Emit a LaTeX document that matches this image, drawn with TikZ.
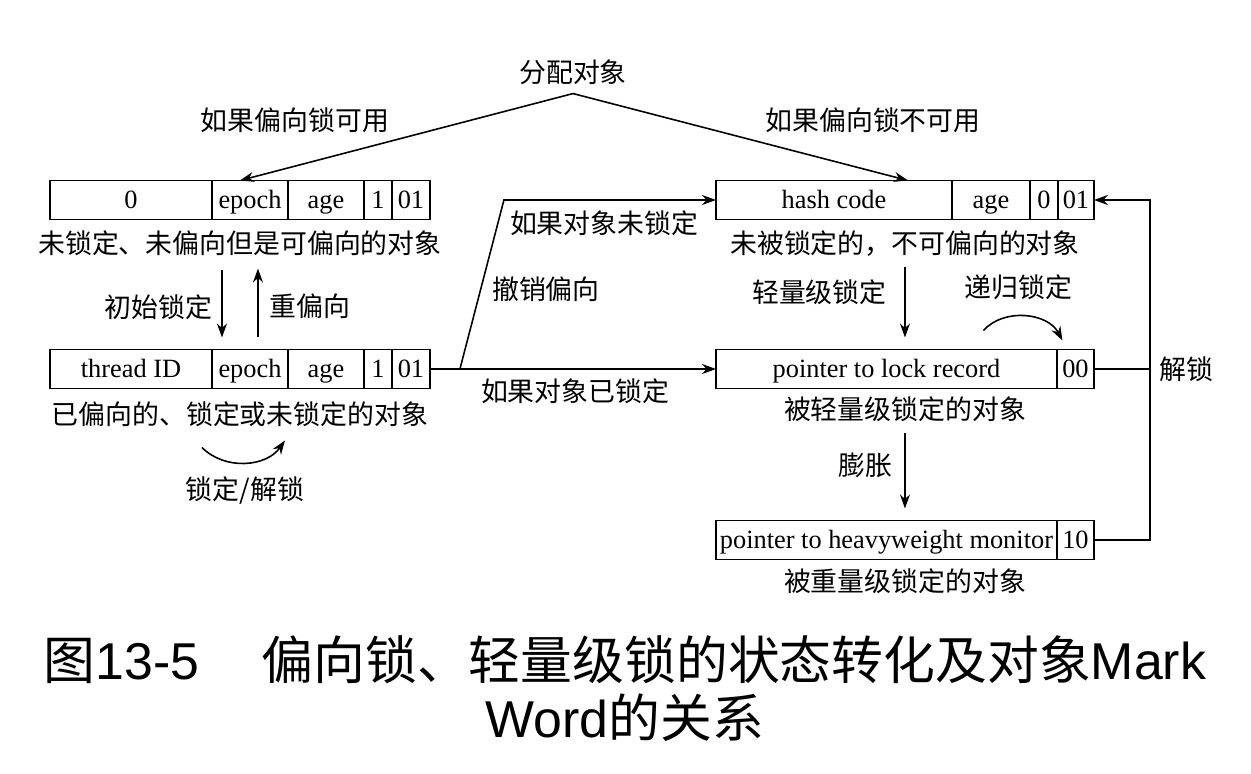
\documentclass[tikz,border=0pt]{standalone}
\usepackage{fontspec}
\setmainfont{Liberation Serif}
\newfontfamily\cjk{Noto Sans CJK SC}
\newfontfamily\capsans{Liberation Sans}
\usetikzlibrary{arrows.meta, positioning, calc}

\begin{document}
\begin{tikzpicture}[
        x=0.02cm, y=0.02cm,
        cell/.style={draw, line width=0.9pt, minimum height=0.78cm, inner sep=0pt, outer sep=0pt, text height=4.0mm, text depth=0.6mm, font=\fontsize{15}{18}\selectfont},
        lbl/.style={font=\cjk\fontsize{15.3}{18}\selectfont, inner sep=1pt},
        arrow/.style={-{Stealth[length=2.8mm, width=2mm]}, line width=0.9pt},
        link/.style={line width=0.9pt}
    ]
    \useasboundingbox (0,0) rectangle (1251,774);

    % Nodes: mark word boxes
    \node (u1) [cell, minimum width=3.24cm, anchor=west] at (50,574) {0};
    \node (u2) [cell, minimum width=1.52cm, right=0pt of u1] {epoch};
    \node (u3) [cell, minimum width=1.52cm, right=0pt of u2] {age};
    \node (u4) [cell, minimum width=0.56cm, right=0pt of u3] {1};
    \node (u5) [cell, minimum width=0.76cm, right=0pt of u4] {01};

    \node (b1) [cell, minimum width=3.24cm, anchor=west] at (50,405) {thread ID};
    \node (b2) [cell, minimum width=1.52cm, right=0pt of b1] {epoch};
    \node (b3) [cell, minimum width=1.52cm, right=0pt of b2] {age};
    \node (b4) [cell, minimum width=0.56cm, right=0pt of b3] {1};
    \node (b5) [cell, minimum width=0.76cm, right=0pt of b4] {01};

    \node (h1) [cell, minimum width=4.72cm, anchor=west] at (716,574) {hash code};
    \node (h2) [cell, minimum width=1.56cm, right=0pt of h1] {age};
    \node (h3) [cell, minimum width=0.56cm, right=0pt of h2] {0};
    \node (h4) [cell, minimum width=0.72cm, right=0pt of h3] {01};

    \node (l1) [cell, minimum width=6.82cm, anchor=west] at (716,405) {pointer to lock record};
    \node (l2) [cell, minimum width=0.74cm, right=0pt of l1] {00};

    \node (m1) [cell, minimum width=6.82cm, anchor=west] at (716,234) {pointer to heavyweight monitor};
    \node (m2) [cell, minimum width=0.74cm, right=0pt of m1] {10};

    % Nodes: captions under the boxes
    \node (su) [lbl] at ($(u1.south west)!0.5!(u5.south east)+(0,-24)$) {未锁定、未偏向但是可偏向的对象};
    \node (sb) [lbl] at ($(b1.south west)!0.5!(b5.south east)+(0,-26)$) {已偏向的、锁定或未锁定的对象};
    \node (sh) [lbl] at ($(h1.south west)!0.5!(h4.south east)+(0,-24)$) {未被锁定的，不可偏向的对象};
    \node (sl) [lbl] at ($(l1.south west)!0.5!(l2.south east)+(0,-21)$) {被轻量级锁定的对象};
    \node (sm) [lbl] at ($(m1.south west)!0.5!(m2.south east)+(0,-22)$) {被重量级锁定的对象};

    % Nodes: allocation
    \node (alloc) [lbl] at (573,702) {分配对象};
    \coordinate (fork) at ($(alloc.south)+(0,-7)$);
    \node (ifok) [lbl] at (295,654) {如果偏向锁可用};
    \node (ifno) [lbl] at (873,654) {如果偏向锁不可用};

    % Arrows
    \draw [arrow] (fork) -- ($(u2.north west)+(28,0)$);
    \draw [arrow] (fork) -- ($(h1.north west)+(192,0)$);

    \draw [arrow] ($(u2.south west)+(10,-51)$) -- ($(b2.north west)+(10,12)$)
        node [lbl, pos=0.55, left=4pt] {初始锁定};
    \draw [arrow] ($(b2.north west)+(46,12)$) -- ($(u2.south west)+(46,-49)$)
        node [lbl, pos=0.45, right=5pt] {重偏向};

    \coordinate (relA) at ($(sb)+(-38,-33)$);
    \coordinate (relB) at ($(sb)+(45,-26)$);
    \draw [arrow] (relA) to[bend right=50] (relB);
    \node (relock) [lbl] at ($(sb)+(5,-76)$) {锁定/解锁};

    \coordinate (split) at ($(b5.east)+(30,0)$);
    \draw [link] (b5.east) -- (split);
    \draw [arrow] (split) -- ($(split |- h1.west)+(44,0)$) -- (h1.west);
    \node (unlk) [lbl, anchor=west] at ($(split |- h1.west)+(48,-23)$) {如果对象未锁定};
    \node (revoke) [lbl] at ($(split)+(86,80)$) {撤销偏向};
    \draw [arrow] (split) -- (l1.west) node [lbl, pos=0.45, below=4pt] {如果对象已锁定};

    \coordinate (ltop) at ($(l1.north west)!0.5!(l2.north east)$);
    \draw [arrow] ($(ltop)+(0,82)$) -- ($(ltop)+(0,12)$)
        node [lbl, pos=0.35, left=9pt] {轻量级锁定};
    \coordinate (recA) at ($(l2.north)+(-92,19)$);
    \coordinate (recB) at ($(l2.north)+(-13,9)$);
    \draw [arrow] (recA) to[bend left=55] (recB);
    \node (recur) [lbl] at ($(l2.north)+(-57,62)$) {递归锁定};

    \coordinate (mtop) at ($(m1.north west)!0.5!(m2.north east)$);
    \draw [arrow] ($(mtop)+(0,87)$) -- ($(mtop)+(0,12)$)
        node [lbl, pos=0.43, left=6pt] {膨胀};

    \coordinate (rx) at ($(m2.east)+(56,0)$);
    \draw [arrow] (m2.east) -- (rx) |- (h4.east);
    \draw [link] (l2.east) -- (l2.east -| rx) node [lbl, right=4pt] {解锁};

    % Figure title
    \node (title) [align=center, font=\fontsize{29.5}{33}\selectfont] at (625,85)
        {{\cjk 图}{\capsans 13-5}\hspace{1.2em}{\cjk 偏向锁、轻量级锁的状态转化及对象}{\capsans Mark}\\
         {\capsans Word}{\cjk 的关系}};
\end{tikzpicture}
\end{document}
